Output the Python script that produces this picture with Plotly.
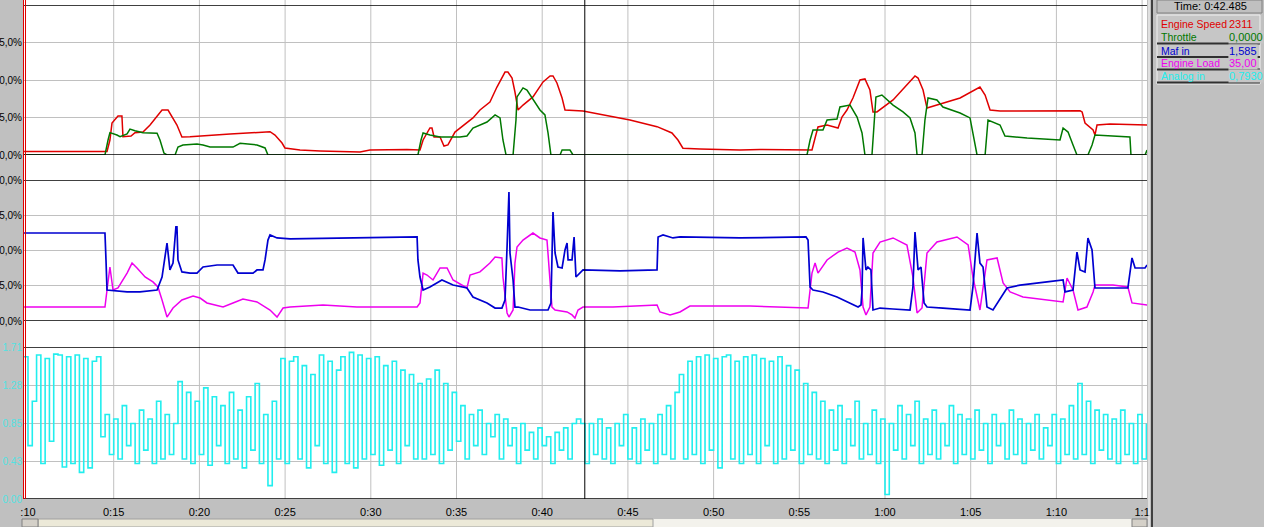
import plotly.graph_objects as go

W, H = 1264, 527

# ---------------- data ----------------
speed_t = [9.77, 14.61, 14.78, 14.90, 15.25, 15.48, 15.54, 16.01, 16.24, 16.71, 17.12, 17.82, 18.17, 18.40,
           18.69, 18.98, 19.45, 21.79, 23.54, 24.12, 24.41, 24.82, 24.99, 25.87, 27.04, 28.20, 29.37, 29.95,
           32.11, 32.87, 33.05, 33.45, 33.57, 33.69, 34.04, 34.27, 34.50, 34.91, 35.96, 36.37, 36.95, 37.36,
           37.83, 38.00, 38.24, 38.41, 38.53, 38.59, 38.88, 39.46, 40.05, 40.46, 40.63, 40.86, 41.16, 41.33,
           42.38, 45.12, 46.70, 47.57, 47.92, 48.21, 49.21, 51.54, 52.71, 54.46, 55.45, 55.74, 55.92, 56.09,
           56.62, 57.26, 57.49, 57.78, 58.13, 58.54, 58.83, 59.12, 59.30, 59.53, 60.47, 61.75, 61.93, 62.22,
           62.45, 64.38, 65.54, 65.84, 66.13, 66.71, 71.38, 71.50, 71.67, 72.14, 72.25, 72.37, 73.13, 75.29]
speed_v = [2.3, 2.3, 10, 21.3, 26, 26, 12.2, 12.7, 14.9, 15.3, 20, 30, 30, 25.3,
           20, 12, 12.2, 14, 15.5, 15.5, 13.3, 8, 4.7, 3.3, 2.7, 2.3, 2.0, 3.3,
           3.7, 3.3, 10, 18, 18, 12, 12, 6, 6.7, 15.3, 24.7, 30, 35.3, 45.3,
           55.3, 55.3, 51.3, 42, 32, 30, 33.3, 38.7, 48.7, 52.7, 52.7, 48, 38, 30,
           29.3, 23.3, 18.9, 14.7, 10, 4.5, 4.0, 3.3, 3.7, 3.3, 3.3, 3.3, 11.3, 18.7,
           20, 18, 25.3, 30, 38, 50, 50.7, 43.3, 28.7, 28.7, 36.7, 52.7, 51.3, 43.3,
           31.3, 38, 45.3, 40, 30, 29.3, 29.5, 28.7, 21.3, 16.7, 13.3, 20, 20.7, 20]

throttle_t = [9.77, 14.49, 14.67, 14.78, 15.19, 15.37, 15.78, 15.95, 16.24, 16.71, 17.53, 17.70, 17.93, 18.11,
              18.58, 18.75, 19.04, 19.86, 20.21, 20.62, 21.96, 22.37, 23.36, 23.83, 24.00, 32.75, 32.93, 33.05,
              33.45, 34.04, 35.20, 35.61, 35.96, 36.78, 37.25, 37.54, 37.71, 37.89, 38.30, 38.47, 38.53, 38.88,
              39.11, 39.41, 39.87, 40.16, 40.34, 40.51, 41.04, 41.16, 41.62, 41.80, 55.45, 55.63, 55.80, 56.38,
              56.62, 57.20, 57.37, 57.96, 58.37, 58.66, 58.83, 59.24, 59.36, 59.47, 59.82, 60.47, 61.05, 61.46,
              61.75, 61.87, 62.16, 62.33, 62.51, 63.03, 63.38, 64.38, 64.96, 65.13, 65.37, 65.84, 66.01, 66.71,
              67.00, 68.29, 70.21, 70.39, 70.68, 70.97, 71.20, 71.84, 72.08, 72.25, 74.29, 74.35, 75.17, 75.29]
throttle_v = [0, 0, 10, 14.9, 13.3, 12.2, 14, 17.3, 16.2, 14.9, 14.5, 10, 1.3, 0,
              0, 5.3, 6.7, 7.3, 6.7, 5.3, 5.3, 7.8, 6.7, 4.7, 0, 0, 10, 14.7,
              13.3, 12, 12, 12.7, 18, 22, 26.7, 24.7, 10, 0, 0, 23.3, 38.7, 44.7,
              43.3, 38, 30, 26.7, 14.7, 0, 0, 3.3, 3.3, 0, 0, 10, 16.7, 16.7,
              23.3, 24, 32, 33.3, 25.3, 14.7, 0, 0, 23.3, 38.7, 40, 33.3, 28.7, 24.7,
              14.7, 0, 0, 23.3, 38, 36.7, 32, 28, 24.7, 14.7, 0, 0, 23.3, 20,
              12.7, 11.3, 10, 18, 15.3, 6.7, 0, 0, 6.7, 13.3, 12, 0, 0, 3.3]

maf_t = [9.77, 11.87, 14.49, 14.55, 14.61, 15.78, 16.53, 17.53, 17.82, 18.11, 18.28, 18.46, 18.63, 18.69,
         18.75, 18.98, 19.45, 19.86, 20.21, 21.03, 21.96, 22.25, 23.13, 23.36, 23.71, 23.83, 24.00, 24.12,
         24.53, 25.29, 28.79, 32.70, 32.75, 32.87, 33.05, 33.45, 34.15, 34.80, 35.61, 35.96, 36.78, 37.25,
         37.65, 37.83, 37.95, 38.06, 38.12, 38.30, 38.41, 38.59, 39.29, 40.34, 40.51, 40.63, 40.75, 40.92,
         41.16, 41.33, 41.45, 41.51, 41.74, 41.86, 41.97, 42.21, 42.38, 44.54, 46.70, 46.76, 47.05, 47.63,
         48.04, 51.54, 55.39, 55.51, 55.63, 55.80, 56.38, 57.20, 57.78, 58.43, 58.60, 58.66, 58.72, 58.89,
         59.00, 59.18, 59.30, 59.71, 60.47, 61.46, 61.63, 61.75, 61.93, 62.10, 62.28, 62.45, 63.38, 64.96,
         65.13, 65.37, 65.54, 65.72, 65.95, 66.30, 67.12, 67.88, 69.45, 70.39, 70.50, 70.97, 71.20, 71.38,
         71.67, 71.84, 72.08, 72.25, 73.30, 74.17, 74.41, 74.59, 75.17, 75.29]
maf_v = [62.4, 62.4, 62.4, 43.3, 22, 20.6, 20.6, 22, 31.2, 55.3, 36.2, 41.1, 66.7, 66.7,
         43.3, 34.8, 34, 34, 38.3, 39.7, 39.7, 34, 34, 36.2, 36.2, 43.3, 57.4, 61,
         58.9, 58.2, 58.9, 59.6, 43.3, 31.2, 22, 24.1, 29.1, 25.5, 23.4, 17, 12.8, 9.2,
         9.2, 14.9, 52.5, 91.5, 48.2, 29.1, 9.9, 9.9, 7.8, 7.8, 12.8, 77.3, 48.2, 38.3,
         37.6, 50.4, 55.3, 43.3, 43.3, 59.6, 31.2, 34, 36.2, 35.5, 36.2, 59.6, 61, 58.9,
         59.6, 58.9, 59.6, 57.4, 24.1, 22, 20.6, 17, 13.5, 9.9, 11.3, 22, 58.9, 36.2,
         38.3, 36.2, 7.8, 9.2, 8.5, 7.8, 24.1, 63.1, 36.2, 38.3, 12.8, 9.9, 9.2, 7.8,
         24.1, 62.4, 41.1, 38.3, 9.9, 7.8, 23.4, 25.5, 27.7, 29.1, 20.6, 22, 48.9, 36.2,
         34.8, 58.9, 50.4, 23.4, 23.4, 23.4, 44.7, 37.6, 37.6, 39.7]

load_t = [9.77, 14.49, 14.61, 14.78, 14.96, 15.25, 15.78, 16.07, 16.36, 16.83, 17.29, 17.58, 17.82, 18.11,
          18.46, 18.98, 19.63, 20.04, 20.44, 21.38, 21.96, 22.54, 23.36, 24.12, 24.53, 24.88, 25.29, 27.21,
          29.19, 32.70, 32.87, 33.05, 33.28, 33.63, 34.04, 34.45, 34.80, 35.61, 35.79, 36.37, 36.95, 37.25,
          37.65, 37.71, 37.95, 38.06, 38.30, 38.41, 38.53, 38.88, 39.46, 39.87, 40.28, 40.46, 40.57, 40.75,
          41.45, 41.74, 41.91, 42.09, 42.38, 44.13, 46.70, 46.87, 47.46, 48.04, 48.62, 52.12, 55.51, 55.74,
          55.92, 56.09, 56.62, 57.26, 57.78, 58.25, 58.54, 58.72, 58.89, 59.12, 59.30, 59.71, 60.47, 61.28,
          61.63, 61.87, 62.16, 62.45, 63.03, 64.20, 64.85, 65.13, 65.54, 65.95, 66.54, 66.89, 67.30, 68.05,
          69.45, 70.39, 70.62, 70.97, 71.26, 71.78, 72.14, 72.25, 73.30, 74.17, 74.41, 75.29]
load_v = [9.9, 9.9, 22, 38.3, 22, 23.4, 34, 41.1, 37.6, 31.2, 27.7, 24.1, 14.9, 2.8,
          9.2, 14.9, 17.7, 16.3, 12.8, 9.9, 12.8, 15.6, 13.5, 7.8, 2.8, 9.2, 9.9, 11.3,
          9.9, 9.9, 12.8, 34, 32.6, 29.1, 37.6, 37.6, 29.1, 23.4, 32.6, 34.8, 41.1, 45.4,
          44.7, 31.2, 5.7, 2.8, 7.8, 41.1, 52.5, 57.4, 62.4, 58.9, 57.4, 29.1, 9.9, 7.8,
          6.4, 4.3, 2.1, 7.8, 9.9, 9.9, 11.3, 6.4, 4.3, 6.4, 10.6, 10.6, 9.2, 34,
          41.1, 34, 43.3, 48.9, 51.8, 48.9, 36.2, 9.9, 4.3, 9.9, 48.2, 56, 58.9, 53.9,
          31.2, 5.7, 9.2, 48.2, 56, 59.6, 53.9, 31.2, 7.8, 43.3, 44.7, 27, 20.6, 17,
          14.9, 13.5, 30.5, 22, 7.8, 9.9, 20.6, 25.5, 25.5, 24.1, 12.8, 11.3]

analog_t0 = 9.75
analog_dt = 0.25
analog_v = [
    1.60, 0.60, 1.10, 1.62, 0.40, 1.58, 0.65, 1.63, 1.62, 0.36, 1.60, 0.40, 1.62, 0.30, 1.58, 0.35, 1.55, 1.60, 0.70,
    0.95, 0.50, 0.90, 0.45, 1.05, 0.60, 0.85, 0.40, 1.00, 0.55, 0.90, 0.40, 1.10, 0.45, 0.95, 0.50, 0.85,
    1.32, 0.45, 1.20, 0.40, 1.10, 0.50, 1.25, 0.38, 1.15, 0.60, 1.05, 0.40, 1.20, 0.45, 1.00, 0.35, 1.15, 0.55,
    1.30, 0.40, 0.95, 0.15, 1.10, 0.45,
    1.58, 0.40, 1.55, 1.60, 0.45, 1.50, 0.35, 1.40, 0.60, 1.62, 0.40, 1.55, 0.30, 1.45, 1.60, 0.40, 1.65, 0.35,
    1.62, 0.45, 1.58, 0.50, 1.60, 0.38, 1.50, 0.55, 1.55, 0.40, 1.45, 0.60, 1.40, 0.45, 1.30,
    0.45, 1.35, 0.50, 1.45, 0.40, 1.30, 0.55, 1.20, 0.65, 1.05, 0.45, 0.95, 0.60, 1.00, 0.50, 0.85, 0.70, 0.95,
    0.45, 0.90, 0.60, 0.80, 0.40, 0.85, 0.55, 0.75, 0.45, 0.80, 0.60, 0.70, 0.40, 0.75, 0.55, 0.80, 0.45, 0.85,
    0.90, 0.85, 0.40, 0.85, 0.50, 0.90, 0.45, 0.80, 0.40, 0.85, 0.60, 0.95, 0.45, 0.80, 0.40, 0.90, 0.55, 0.85,
    0.40, 0.95, 0.50, 1.05, 0.45, 1.20,
    1.40, 0.45, 1.55, 0.50, 1.60, 0.40, 1.62, 0.55, 1.58, 0.35, 1.60, 1.62, 0.45, 1.55, 0.40, 1.60, 0.50, 1.62,
    0.40, 1.58, 0.60, 1.55, 0.40, 1.60, 0.45, 1.50, 0.55, 1.45, 0.40, 1.30, 0.50, 1.20,
    0.45, 1.10, 0.40, 1.00, 0.55, 1.05, 0.40, 0.90, 0.60, 1.10, 0.45, 0.85, 0.50, 1.00, 0.40, 0.90, 0.05, 0.85,
    0.55, 1.05, 0.45, 0.95, 0.60, 1.10, 0.40, 0.90, 0.50, 1.00, 0.45, 0.85, 0.60, 1.05, 0.40, 0.95, 0.50, 0.90,
    0.45, 1.00, 0.55, 0.85, 0.40, 0.95, 0.60, 0.85, 0.45, 1.00, 0.50, 0.90, 0.40, 0.85, 0.55, 0.95, 0.45, 0.80,
    0.60, 0.95, 0.40, 0.90, 0.50, 1.05, 0.45, 1.30, 0.50, 1.10, 0.40, 1.00, 0.55, 0.95, 0.45, 0.90, 0.40, 1.00,
    0.50, 0.85, 0.40, 0.95, 0.45, 0.85]
analog_t = [analog_t0 + i * analog_dt for i in range(len(analog_v))]

x_tickvals = [10, 15, 20, 25, 30, 35, 40, 45, 50, 55, 60, 65, 70, 75]
x_ticktext = [":10", "0:15", "0:20", "0:25", "0:30", "0:35", "0:40", "0:45", "0:50", "0:55",
              "1:00", "1:05", "1:10", "1:1"]
x_range = [9.708, 75.286]
pct_tickvals = [0, 25, 50, 75, 100]
pct_ticktext = ["0,0%", "25,0%", "50,0%", "75,0%", "100,0%"]
analog_tickvals = [0, 0.4275, 0.855, 1.2825, 1.71]
analog_ticktext = ["0.00", "0.43", "0.85", "1.28", "1.71"]
cursor_time = 42.485
time_label = "Time: 0:42.485"
legend_names = ["Engine Speed", "Throttle", "Maf in", "Engine Load", "Analog in"]
legend_values = ["2311", "0,0000", "1,585", "35,00", "0,7930"]

# ---------------- styling ----------------
RED, GREEN, BLUE, MAG, CYAN = "#e00000", "#007800", "#0000d0", "#ee00ee", "#22eeee"
legend_colors = [RED, GREEN, BLUE, MAG, CYAN]
GRAY = "#c0c0c0"
FONT = "Liberation Sans, Arial, sans-serif"


def px(x):
    return x / W


def py(y):
    return 1 - y / H


PLOT_L, PLOT_R = 23, 1147
dom1 = [py(155), py(5)]
dom2 = [py(321), py(180)]
dom3 = [py(499), py(347)]

fig = go.Figure()
fig.add_trace(go.Scatter(x=speed_t, y=speed_v, mode="lines", line=dict(color=RED, width=1.5),
                         xaxis="x", yaxis="y", name="Engine Speed"))
fig.add_trace(go.Scatter(x=throttle_t, y=throttle_v, mode="lines", line=dict(color=GREEN, width=1.5),
                         xaxis="x", yaxis="y", name="Throttle"))
fig.add_trace(go.Scatter(x=load_t, y=load_v, mode="lines", line=dict(color=MAG, width=1.5),
                         xaxis="x", yaxis="y2", name="Engine Load"))
fig.add_trace(go.Scatter(x=maf_t, y=maf_v, mode="lines", line=dict(color=BLUE, width=1.7),
                         xaxis="x", yaxis="y2", name="Maf in"))
fig.add_trace(go.Scatter(x=analog_t, y=analog_v, mode="lines", line=dict(color=CYAN, width=1.6, shape="hv"),
                         xaxis="x", yaxis="y3", name="Analog in"))

shapes = []
# white plotting area
shapes.append(dict(type="rect", xref="paper", yref="paper", x0=px(PLOT_L), x1=px(PLOT_R),
                   y0=py(499), y1=1, fillcolor="white", line=dict(width=0), layer="below"))
# vertical grid lines through all panels
for tv in x_tickvals[1:]:
    shapes.append(dict(type="line", xref="x", yref="paper", x0=tv, x1=tv, y0=py(499), y1=1,
                       line=dict(color=GRAY, width=1), layer="below"))
# panel borders
for yref, lo, hi in (("y", 0, 100), ("y2", 0, 100), ("y3", 0, 1.71)):
    for v in (lo, hi):
        shapes.append(dict(type="line", xref="paper", yref=yref, x0=px(PLOT_L), x1=px(PLOT_R),
                           y0=v, y1=v, line=dict(color="black", width=1.5), layer="above"))
# left red marker lines
for xx in (23.5, 25.5):
    shapes.append(dict(type="line", xref="paper", yref="paper", x0=px(xx), x1=px(xx), y0=py(499), y1=1,
                       line=dict(color="#e00000", width=1), layer="above"))
# cursor
shapes.append(dict(type="line", xref="x", yref="paper", x0=cursor_time, x1=cursor_time, y0=py(499), y1=1,
                   line=dict(color="black", width=1), layer="above"))
# right separator
shapes.append(dict(type="line", xref="paper", yref="paper", x0=px(1149), x1=px(1149), y0=0, y1=1,
                   line=dict(color="#ffffff", width=1)))
shapes.append(dict(type="line", xref="paper", yref="paper", x0=px(1152), x1=px(1152), y0=0, y1=1,
                   line=dict(color="#404040", width=2)))
# time box
shapes.append(dict(type="rect", xref="paper", yref="paper", x0=px(1157), x1=px(1262), y0=py(13), y1=py(0),
                   fillcolor=GRAY, line=dict(color="#808080", width=1)))
# legend box
shapes.append(dict(type="rect", xref="paper", yref="paper", x0=px(1157), x1=px(1260), y0=py(84), y1=py(15),
                   fillcolor="#c6c6c6", line=dict(color="#f0f0f0", width=1)))
for sy in (43.5, 57, 69.5, 82.5):
    shapes.append(dict(type="line", xref="paper", yref="paper", x0=px(1157), x1=px(1260), y0=py(sy), y1=py(sy),
                       line=dict(color="#303030", width=2)))
# scrollbar
shapes.append(dict(type="rect", xref="paper", yref="paper", x0=px(22), x1=px(1147), y0=0, y1=py(519),
                   fillcolor="#f3f2ec", line=dict(width=0)))
shapes.append(dict(type="rect", xref="paper", yref="paper", x0=px(38), x1=px(653), y0=0, y1=py(519),
                   fillcolor="#ece9d8", line=dict(color="#a0a0a0", width=1)))
shapes.append(dict(type="rect", xref="paper", yref="paper", x0=px(22), x1=px(38), y0=0, y1=py(519),
                   fillcolor="#d4d0c8", line=dict(color="#808080", width=1)))
shapes.append(dict(type="rect", xref="paper", yref="paper", x0=px(1132), x1=px(1147), y0=0, y1=py(519),
                   fillcolor="#d4d0c8", line=dict(color="#808080", width=1)))

annotations = []
annotations.append(dict(xref="paper", yref="paper", x=px(1210), y=py(6.5), text=time_label, showarrow=False,
                        xanchor="center", yanchor="middle", font=dict(family=FONT, size=11, color="black")))
row_y = [24, 37, 50.5, 63.5, 76.5]
for name, val, col, ry in zip(legend_names, legend_values, legend_colors, row_y):
    annotations.append(dict(xref="paper", yref="paper", x=px(1159), y=py(ry), text=name, showarrow=False,
                            xanchor="left", yanchor="middle", font=dict(family=FONT, size=10.5, color=col)))
    annotations.append(dict(xref="paper", yref="paper", x=px(1228), y=py(ry), text=val, showarrow=False,
                            xanchor="left", yanchor="middle", bgcolor="#c6c6c6", borderpad=0,
                            font=dict(family=FONT, size=11, color=col)))

ytick_font = dict(family=FONT, size=10, color="#000000")
fig.update_layout(
    width=W, height=H,
    margin=dict(l=0, r=0, t=0, b=0),
    paper_bgcolor=GRAY, plot_bgcolor="rgba(0,0,0,0)",
    showlegend=False,
    xaxis=dict(domain=[px(PLOT_L), px(PLOT_R)], range=x_range, anchor="y3", tickmode="array",
               tickvals=x_tickvals, ticktext=x_ticktext, showgrid=False, zeroline=False,
               ticks="outside", ticklen=3, tickcolor="rgba(0,0,0,0)",
               tickfont=dict(family=FONT, size=11, color="black"), automargin=False),
    yaxis=dict(domain=dom1, range=[0, 100], tickmode="array", tickvals=pct_tickvals, ticktext=pct_ticktext,
               showgrid=True, gridcolor=GRAY, gridwidth=1, zeroline=False, anchor="x",
               tickfont=ytick_font, automargin=False),
    yaxis2=dict(domain=dom2, range=[0, 100], tickmode="array", tickvals=pct_tickvals, ticktext=pct_ticktext,
                showgrid=True, gridcolor=GRAY, gridwidth=1, zeroline=False, anchor="x",
                tickfont=ytick_font, automargin=False),
    yaxis3=dict(domain=dom3, range=[0, 1.71], tickmode="array", tickvals=analog_tickvals,
                ticktext=analog_ticktext, showgrid=True, gridcolor=GRAY, gridwidth=1, zeroline=False,
                anchor="x", tickfont=dict(family=FONT, size=10, color="#55e0e0"), automargin=False),
    shapes=shapes,
    annotations=annotations,
)

fig.write_html("out.html", config={"displayModeBar": False},
               post_script="document.body.style.margin='0';document.body.style.overflow='hidden';")
